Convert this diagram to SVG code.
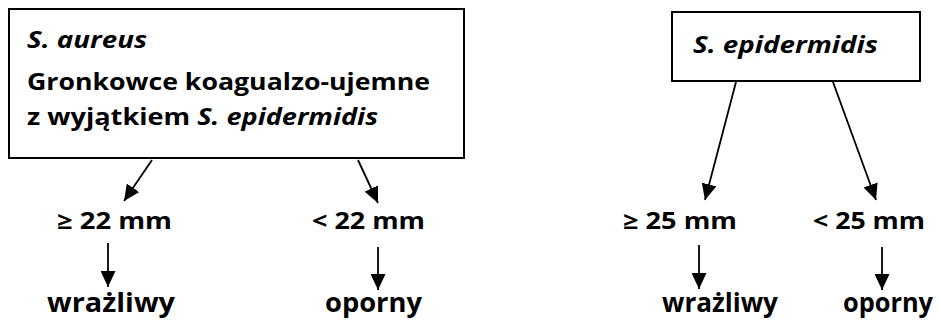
<svg xmlns="http://www.w3.org/2000/svg" width="939" height="320" viewBox="0 0 939 320">
  <style>
    .box { fill: #ffffff; stroke: #000000; stroke-width: 2; }
    .lbl { font-family: "Open Sans", Lato, "DejaVu Sans", sans-serif; font-weight: bold; font-size: 23px; fill: #000000; }
    .big { font-size: 27px; }
    .it { font-style: italic; }
    .edge { stroke: #000000; stroke-width: 1.8; fill: none; marker-end: url(#head); }
  </style>
  <defs>
    <marker id="head" markerUnits="userSpaceOnUse" markerWidth="17" markerHeight="15" refX="16" refY="7.5" orient="auto" viewBox="0 0 17 15">
      <path d="M0,0 L16,7.5 L0,15 Z" fill="#000000"/>
    </marker>
  </defs>

  <!-- left group: S. aureus and coagulase-negative staphylococci -->
  <g id="node-aureus">
    <rect class="box" x="9" y="9" width="455" height="149"/>
    <text class="lbl" x="27" y="48" textLength="120" lengthAdjust="spacingAndGlyphs"><tspan class="it">S. aureus</tspan></text>
    <text class="lbl" x="27" y="90" textLength="403" lengthAdjust="spacingAndGlyphs">Gronkowce koagualzo-ujemne</text>
    <text class="lbl" x="27" y="125" textLength="351" lengthAdjust="spacingAndGlyphs">z wyjątkiem <tspan class="it">S. epidermidis</tspan></text>
  </g>
  <g id="node-ge22"><text class="lbl" x="57" y="229" textLength="115" lengthAdjust="spacingAndGlyphs">≥ 22 mm</text></g>
  <g id="node-lt22"><text class="lbl" x="312" y="229" textLength="113" lengthAdjust="spacingAndGlyphs">&lt; 22 mm</text></g>
  <g id="node-s1"><text class="lbl big" x="47" y="312" textLength="128" lengthAdjust="spacingAndGlyphs">wrażliwy</text></g>
  <g id="node-r1"><text class="lbl big" x="325" y="312" textLength="97" lengthAdjust="spacingAndGlyphs">oporny</text></g>

  <!-- right group: S. epidermidis -->
  <g id="node-epidermidis">
    <rect class="box" x="672" y="12" width="248" height="69"/>
    <text class="lbl" x="693" y="53" textLength="185" lengthAdjust="spacingAndGlyphs" style="font-size:24px"><tspan class="it">S. epidermidis</tspan></text>
  </g>
  <g id="node-ge25"><text class="lbl" x="623" y="229" textLength="114" lengthAdjust="spacingAndGlyphs">≥ 25 mm</text></g>
  <g id="node-lt25"><text class="lbl" x="813" y="229" textLength="112" lengthAdjust="spacingAndGlyphs">&lt; 25 mm</text></g>
  <g id="node-s2"><text class="lbl big" x="662" y="312" textLength="116" lengthAdjust="spacingAndGlyphs">wrażliwy</text></g>
  <g id="node-r2"><text class="lbl big" x="843" y="312" textLength="90" lengthAdjust="spacingAndGlyphs">oporny</text></g>

  <!-- connectors -->
  <g id="connectors">
    <line class="edge" x1="152" y1="160" x2="124" y2="201"/>
    <line class="edge" x1="358" y1="160" x2="378" y2="203"/>
    <line class="edge" x1="108" y1="243" x2="108" y2="287"/>
    <line class="edge" x1="378" y1="247" x2="378" y2="290"/>
    <line class="edge" x1="736" y1="82" x2="705" y2="200"/>
    <line class="edge" x1="833" y1="82" x2="876" y2="200"/>
    <line class="edge" x1="699" y1="245" x2="699" y2="289"/>
    <line class="edge" x1="882" y1="247" x2="882" y2="290"/>
  </g>
</svg>
